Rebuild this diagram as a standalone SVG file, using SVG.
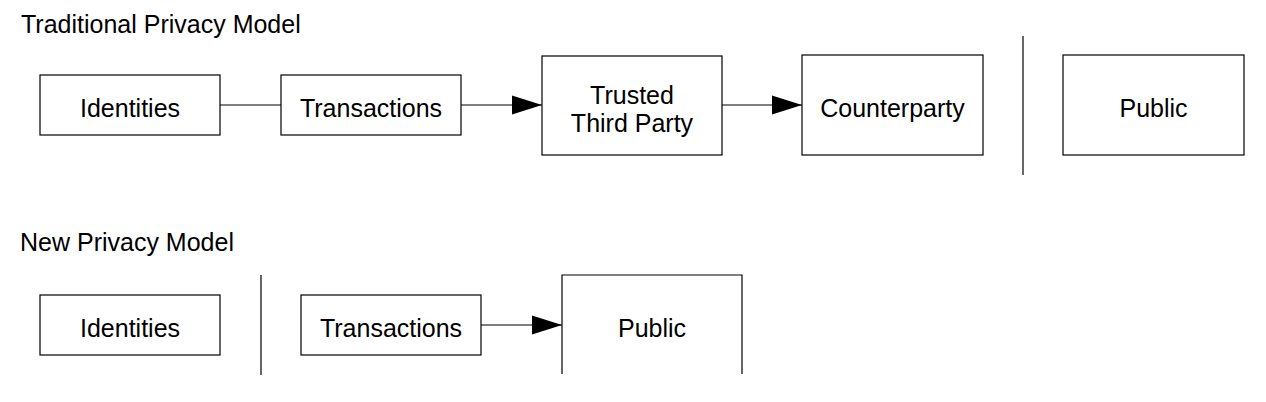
<svg xmlns="http://www.w3.org/2000/svg" width="1266" height="402" viewBox="0 0 1266 402">
<style>
.box{fill:#fff;stroke:#000;stroke-width:1.2}
.t{font-family:"Liberation Sans",Arial,sans-serif;font-size:25px;fill:#000;text-anchor:middle}
.title{font-family:"Liberation Sans",Arial,sans-serif;font-size:25px;fill:#000}
.ln{stroke:#000;stroke-width:1.2;fill:none}
</style>
<defs>
<marker id="ah" markerWidth="30" markerHeight="20" refX="30" refY="10" orient="auto" markerUnits="userSpaceOnUse">
<path d="M0,0.5 L30,10 L0,19.5 Z" fill="#000"/>
</marker>
</defs>
<rect width="1266" height="402" fill="#fff"/>
<text class="title" x="21" y="33">Traditional Privacy Model</text>
<text class="title" x="20" y="251">New Privacy Model</text>
<g id="connectors">
<line class="ln" x1="220" y1="105" x2="281" y2="105"/>
<line class="ln" x1="461" y1="105" x2="542" y2="105" marker-end="url(#ah)"/>
<line class="ln" x1="722" y1="105" x2="802" y2="105" marker-end="url(#ah)"/>
<line class="ln" x1="481" y1="325" x2="562" y2="325" marker-end="url(#ah)"/>
</g>
<g id="dividers">
<line class="ln" x1="1023" y1="36" x2="1023" y2="175"/>
<line class="ln" x1="261" y1="275" x2="261" y2="375"/>
</g>
<g id="identities1"><rect class="box" x="40" y="75" width="180" height="60"/><text class="t" x="130" y="116.5">Identities</text></g>
<g id="transactions1"><rect class="box" x="281" y="75" width="180" height="60"/><text class="t" x="371" y="116.5">Transactions</text></g>
<g id="ttp"><rect class="box" x="542" y="56" width="180" height="99"/><text class="t" x="632" y="104">Trusted</text><text class="t" x="632" y="131.5">Third Party</text></g>
<g id="counterparty"><rect class="box" x="802" y="55" width="181" height="100"/><text class="t" x="892.5" y="116.5">Counterparty</text></g>
<g id="public1"><rect class="box" x="1063" y="55" width="181" height="100"/><text class="t" x="1153.5" y="116.5">Public</text></g>
<g id="identities2"><rect class="box" x="40" y="295" width="180" height="60"/><text class="t" x="130" y="336.5">Identities</text></g>
<g id="transactions2"><rect class="box" x="301" y="295" width="180" height="60"/><text class="t" x="391" y="336.5">Transactions</text></g>
<g id="public2"><path class="box" d="M562,374 L562,275 L742,275 L742,374"/><text class="t" x="652" y="337">Public</text></g>
</svg>
